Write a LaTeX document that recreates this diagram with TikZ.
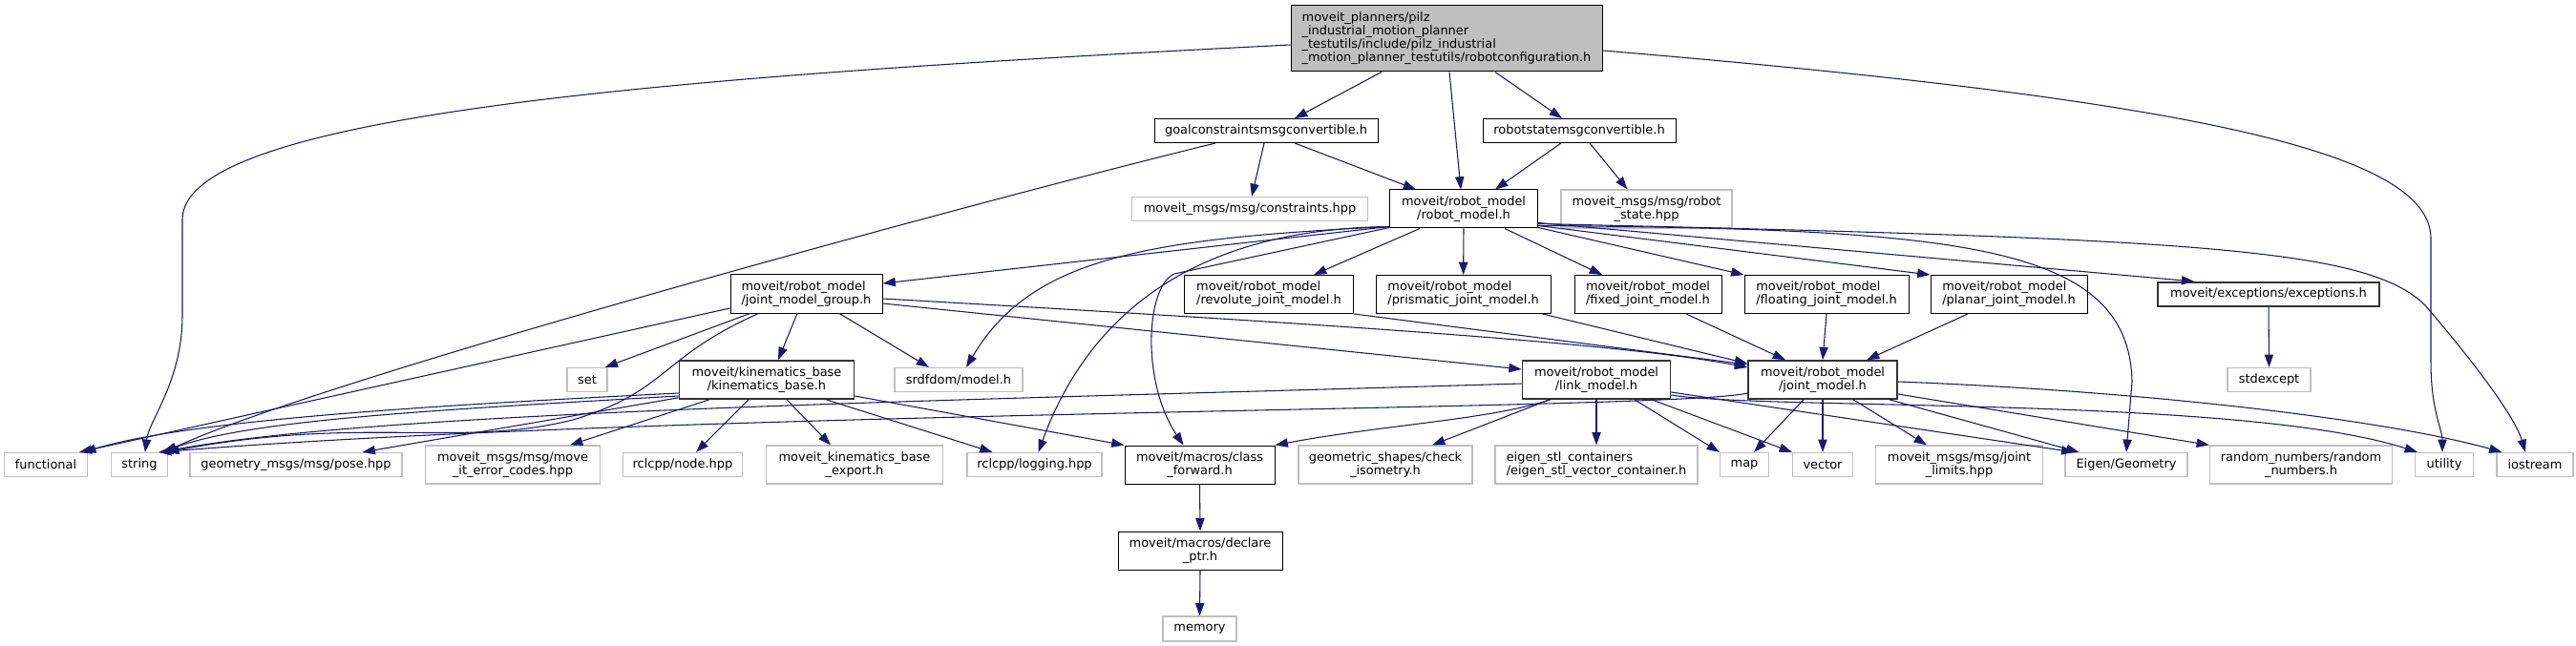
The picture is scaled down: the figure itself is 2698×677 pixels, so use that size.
\documentclass[tikz,border=0pt]{standalone}
\usepackage{fontspec}
\setmainfont{DejaVu Sans}
\usetikzlibrary{arrows.meta,calc}
\definecolor{edgecol}{HTML}{191970}
\definecolor{extgray}{HTML}{BFBFBF}
\begin{document}
\begin{tikzpicture}[x=0.75pt,y=-0.75pt,
  every node/.style={font=\fontsize{9.7}{10.5}\selectfont, inner sep=0pt, align=center},
  sz/.style 2 args={minimum width=#1*0.75pt, minimum height=#2*0.75pt},
  doc/.style={draw=black, line width=0.75pt, fill=white},
  docb/.style={draw=black!80, line width=1.2pt, fill=white},
  ext/.style={draw=extgray, line width=0.9pt, fill=white},
  dep/.style={draw=edgecol, line width=0.8pt, -{Triangle[length=10pt,width=7pt]}},
]
\useasboundingbox[fill=white] (0,0) rectangle (2698,677);

% nodes
\node[doc, fill=extgray, sz={326}{69}, align=left] (top) at (1515,40.5) {moveit\_planners/pilz\\\_industrial\_motion\_planner\\\_testutils/include/pilz\_industrial\\\_motion\_planner\_testutils/robotconfiguration.h};
\node[doc, sz={234}{25}] (goal) at (1326,137) {goalconstraintsmsgconvertible.h};
\node[doc, sz={202}{25}] (robotstate) at (1654,137) {robotstatemsgconvertible.h};
\node[ext, sz={247}{25}] (constraints) at (1309,219) {moveit\_msgs/msg/constraints.hpp};
\node[doc, sz={155}{40}] (rm) at (1533,219) {moveit/robot\_model\\/robot\_model.h};
\node[ext, sz={179}{40}] (rshpp) at (1724.5,219) {moveit\_msgs/msg/robot\\\_state.hpp};

\node[doc, sz={159}{40}, align=left] (jmg) at (844.5,308) {moveit/robot\_model\\/joint\_model\_group.h};
\node[doc, sz={177}{40}, align=left] (revolute) at (1329,308.5) {moveit/robot\_model\\/revolute\_joint\_model.h};
\node[doc, sz={183}{40}, align=left] (prismatic) at (1532.6,308.5) {moveit/robot\_model\\/prismatic\_joint\_model.h};
\node[doc, sz={154}{40}, align=left] (fixed) at (1726,308.5) {moveit/robot\_model\\/fixed\_joint\_model.h};
\node[doc, sz={172}{40}, align=left] (floating) at (1913,308.5) {moveit/robot\_model\\/floating\_joint\_model.h};
\node[doc, sz={164}{40}, align=left] (planar) at (2104,308.5) {moveit/robot\_model\\/planar\_joint\_model.h};
\node[docb, sz={232}{25}] (exceptions) at (2376,308.3) {moveit/exceptions/exceptions.h};

\node[ext, sz={42}{25}] (set) at (615,398) {set};
\node[docb, sz={183}{40}] (kin) at (803,398) {moveit/kinematics\_base\\/kinematics\_base.h};
\node[ext, sz={134}{25}] (srdf) at (1004,398) {srdfdom/model.h};
\node[docb, sz={155}{40}] (link) at (1672,398) {moveit/robot\_model\\/link\_model.h};
\node[docb, sz={156}{40}] (joint) at (1909,398) {moveit/robot\_model\\/joint\_model.h};
\node[ext, sz={87}{25}] (stdexcept) at (2376.5,398) {stdexcept};

\node[ext, sz={87}{25}] (functional) at (48,487) {functional};
\node[ext, sz={59}{25}] (string) at (146,487) {string};
\node[ext, sz={222}{25}] (pose) at (310,487) {geometry\_msgs/msg/pose.hpp};
\node[ext, sz={183}{40}] (errcodes) at (537,487) {moveit\_msgs/msg/move\\\_it\_error\_codes.hpp};
\node[ext, sz={125}{25}] (rclnode) at (715,487) {rclcpp/node.hpp};
\node[ext, sz={185}{40}] (export) at (895,487) {moveit\_kinematics\_base\\\_export.h};
\node[ext, sz={141}{25}] (logging) at (1083.5,487) {rclcpp/logging.hpp};
\node[doc, sz={157}{40}] (classfwd) at (1256.5,487) {moveit/macros/class\\\_forward.h};
\node[ext, sz={182}{40}] (isometry) at (1451,487) {geometric\_shapes/check\\\_isometry.h};
\node[ext, sz={212}{40}, align=left] (eigenstl) at (1672,487) {eigen\_stl\_containers\\/eigen\_stl\_vector\_container.h};
\node[ext, sz={51}{25}] (map) at (1827,487) {map};
\node[ext, sz={63}{25}] (vector) at (1909,487) {vector};
\node[ext, sz={175}{40}] (jointlimits) at (2052,487) {moveit\_msgs/msg/joint\\\_limits.hpp};
\node[ext, sz={128}{25}] (eigengeom) at (2227,487) {Eigen/Geometry};
\node[ext, sz={191}{40}] (random) at (2410,487) {random\_numbers/random\\\_numbers.h};
\node[ext, sz={61}{25}] (utility) at (2560,487) {utility};
\node[ext, sz={80}{25}] (iostream) at (2655,487) {iostream};

\node[doc, sz={172}{40}] (declare) at (1257,577) {moveit/macros/declare\\\_ptr.h};
\node[ext, sz={77}{26}] (memory) at (1256.5,659) {memory};

% edges from top
\draw[dep] ($(top.west)+(0,6.5)$) .. controls (700,80) and (191,120) .. (191,230) -- (191,330) .. controls (191,400) and (156,440) .. ($(string.north)+(6,0)$);
\draw[dep] ($(top.south)+(-68,0)$) -- ($(goal.north)+(30,0)$);
\draw[dep] ($(top.south)+(3,0)$) -- ($(rm.north)+(-3,0)$);
\draw[dep] ($(top.south)+(51,0)$) -- ($(robotstate.north)+(-18,0)$);
\draw[dep] ($(top.east)+(0,12.5)$) .. controls (2300,105) and (2546,160) .. (2546,250) -- (2546,380) .. controls (2546,430) and (2558,450) .. ($(utility.north)+(-2,0)$);

% goal
\draw[dep] ($(goal.south)+(-53,0)$) .. controls (1000,217) and (330,400) .. ($(string.north east)+(-4,0)$);
\draw[dep] ($(goal.south)+(-2,0)$) -- ($(constraints.north)+(2,0)$);
\draw[dep] ($(goal.south)+(30,0)$) -- ($(rm.north)+(-50,0)$);

% robotstate
\draw[dep] ($(robotstate.south)+(-19,0)$) -- ($(rm.north)+(33,0)$);
\draw[dep] ($(robotstate.south)+(11,0)$) -- ($(rshpp.north)+(-20,0)$);

% robot_model
\draw[dep] ($(rm.south west)+(0,-2)$) -- ($(jmg.east)+(0,-11)$);
\draw[dep] ($(rm.south west)+(0,-2)$) .. controls (1200,250) and (1080,270) .. ($(srdf.north)+(8,0)$);
\draw[dep] ($(rm.south west)+(0,-2)$) .. controls (1250,240) and (1140,330) .. ($(logging.north)+(4,0)$);
\draw[dep] ($(rm.south west)+(0,-1)$) -- (1230,287) .. controls (1200,300) and (1195,400) .. ($(classfwd.north)+(-17,0)$);
\draw[dep] ($(rm.south)+(-46,0)$) -- ($(revolute.north)+(47,0)$);
\draw[dep] (rm.south) -- (prismatic.north);
\draw[dep] ($(rm.south)+(43,0)$) -- ($(fixed.north)+(-48,0)$);
\draw[dep] ($(rm.south east)+(0,-1)$) -- (floating.north west);
\draw[dep] ($(rm.south east)+(0,-3)$) -- (planar.north west);
\draw[dep] ($(rm.south east)+(0,-6)$) -- ($(exceptions.north west)+(39,0)$);
\draw[dep] ($(rm.south east)+(0,-3)$) .. controls (2050,240) and (2230,255) .. (2233,400) -- (eigengeom.north);
\draw[dep] ($(rm.south east)+(0,-5)$) .. controls (2300,250) and (2480,260) .. (2540,320) .. controls (2600,390) and (2635,440) .. ($(iostream.north)+(-10,0)$);

% joint_model_group
\draw[dep] ($(jmg.west)+(0,15)$) -- ($(functional.north)+(35,0)$);
\draw[dep] ($(jmg.south west)+(21,0)$) -- ($(set.north east)+(-3,0)$);
\draw[dep] ($(jmg.south west)+(30,0)$) .. controls (690,375) and (700,410) .. (600,440) .. controls (480,470) and (380,435) .. ($(string.north east)+(-2,0)$);
\draw[dep] ($(jmg.south)+(-9.5,0)$) -- ($(kin.north)+(12,0)$);
\draw[dep] ($(jmg.south)+(34.5,0)$) -- ($(srdf.north)+(-31,0)$);
\draw[dep] ($(jmg.east)+(0,10)$) -- ($(link.west)+(0,-11)$);
\draw[dep] ($(jmg.east)+(0,5)$) .. controls (1400,340) and (1700,360) .. ($(joint.west)+(0,-13)$);

% joint types
\draw[dep] (revolute.south east) -- ($(joint.west)+(0,-16)$);
\draw[dep] ($(prismatic.south east)+(-9,0)$) -- ($(joint.west)+(0,-17)$);
\draw[dep] ($(fixed.south)+(40,0)$) -- ($(joint.north)+(-39,0)$);
\draw[dep] (floating.south) -- (joint.north);
\draw[dep] ($(planar.south)+(-43,0)$) -- ($(joint.north)+(46,0)$);

% kinematics_base
\draw[dep] ($(kin.west)+(0,14)$) .. controls (450,425) and (200,440) .. ($(functional.north east)+(-5,0)$);
\draw[dep] ($(kin.west)+(0,17)$) .. controls (450,430) and (260,440) .. ($(string.north east)+(-6,0)$);
\draw[dep] ($(kin.south west)+(0,-2)$) -- ($(pose.north east)+(-42,0)$);
\draw[dep] ($(kin.south)+(-60,0)$) -- ($(errcodes.north)+(60,0)$);
\draw[dep] ($(kin.south)+(-19,0)$) -- ($(rclnode.north)+(14,0)$);
\draw[dep] ($(kin.south)+(21,0)$) -- ($(export.north)+(-25,0)$);
\draw[dep] ($(kin.south east)+(-30,0)$) -- ($(logging.north west)+(27,0)$);
\draw[dep] ($(kin.east)+(0,17)$) -- (classfwd.north west);

% link_model
\draw[dep] ($(link.west)+(0,4)$) .. controls (1000,420) and (400,430) .. ($(string.north east)+(-8,0)$);
\draw[dep] ($(link.south west)+(30,0)$) .. controls (1560,440) and (1450,445) .. (classfwd.north east);
\draw[dep] ($(link.south)+(-49,0)$) -- ($(isometry.north)+(49,0)$);
\draw[dep] (link.south) -- (eigenstl.north);
\draw[dep] ($(link.south)+(40,0)$) -- (map.north west);
\draw[dep] ($(link.south)+(58,0)$) -- (vector.north west);
\draw[dep] ($(link.east)+(0,13)$) -- ($(eigengeom.north west)+(10,0)$);
\draw[dep] ($(link.east)+(0,16)$) .. controls (1850,430) and (2350,415) .. ($(utility.north west)+(3,0)$);

% joint_model
\draw[dep] ($(joint.west)+(0,14)$) .. controls (1760,430) and (700,430) .. ($(string.north east)+(-10,0)$);
\draw[dep] ($(joint.south)+(-20,0)$) -- ($(map.north)+(10,0)$);
\draw[dep] (joint.south) -- (vector.north);
\draw[dep] ($(joint.south)+(32,0)$) -- ($(jointlimits.north)+(-34,0)$);
\draw[dep] ($(joint.south east)+(-9,0)$) -- ($(eigengeom.north west)+(15,0)$);
\draw[dep] ($(joint.east)+(0,15)$) -- (random.north west);
\draw[dep] ($(joint.east)+(0,2)$) .. controls (2250,410) and (2500,440) .. ($(iostream.north west)+(6,0)$);

% others
\draw[dep] (exceptions.south) -- (stdexcept.north);
\draw[dep] (classfwd.south) -- (declare.north);
\draw[dep] (declare.south) -- (memory.north);
\end{tikzpicture}
\end{document}
